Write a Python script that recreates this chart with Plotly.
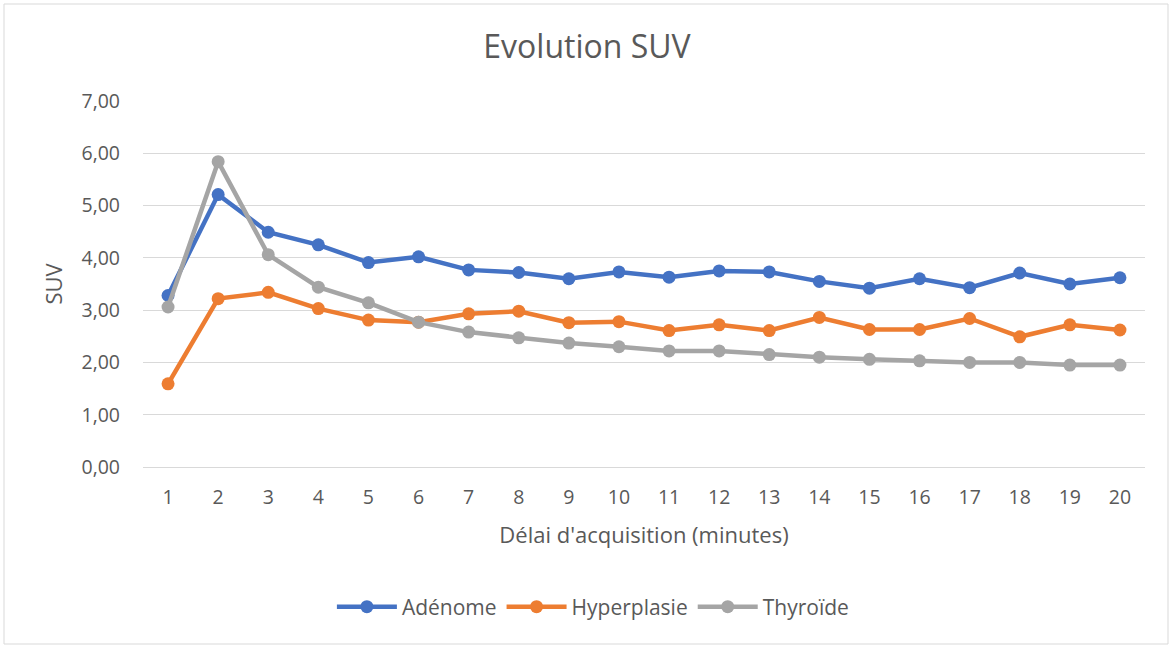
import plotly.graph_objects as go

minutes = [str(i) for i in range(1, 21)]
adenome = [3.28, 5.21, 4.49, 4.25, 3.91, 4.02, 3.77, 3.72, 3.60, 3.73,
           3.63, 3.75, 3.73, 3.55, 3.42, 3.60, 3.43, 3.71, 3.50, 3.62]
hyperplasie = [1.59, 3.22, 3.34, 3.03, 2.81, 2.77, 2.93, 2.98, 2.76, 2.78,
               2.61, 2.72, 2.61, 2.86, 2.63, 2.63, 2.84, 2.49, 2.72, 2.62]
thyroide = [3.06, 5.84, 4.06, 3.44, 3.14, 2.77, 2.58, 2.47, 2.37, 2.30,
            2.22, 2.22, 2.15, 2.10, 2.06, 2.03, 2.00, 2.00, 1.95, 1.95]
y_ticks = [0, 1, 2, 3, 4, 5, 6, 7]

series = [("Adénome", adenome, "#4472C4"),
          ("Hyperplasie", hyperplasie, "#ED7D31"),
          ("Thyroïde", thyroide, "#A5A5A5")]

fig = go.Figure()
for name, vals, col in series:
    fig.add_trace(go.Scatter(x=minutes, y=vals, name=name, mode="lines+markers",
                             line=dict(color=col, width=4.5),
                             marker=dict(color=col, size=13)))

font_family = "'Open Sans', 'Noto Sans', sans-serif"
fig.update_layout(
    width=1174, height=648,
    margin=dict(l=143, r=29, t=101, b=181),
    paper_bgcolor="white", plot_bgcolor="white",
    font=dict(family=font_family, color="#595959", size=19),
    separators=",.",
    title=dict(text="Evolution SUV", x=0.5, xanchor="center", y=1 - 47 / 648,
               yanchor="middle", font=dict(size=32, color="#595959")),
    xaxis=dict(type="category", range=[-0.5, 19.5], showgrid=False,
               showline=True, linecolor="#D9D9D9", linewidth=1, ticks="",
               ticklabelstandoff=13,
               tickfont=dict(size=19.5), title=dict(text="Délai d'acquisition (minutes)",
               font=dict(size=22), standoff=18)),
    yaxis=dict(range=[0, 7], tickvals=y_ticks, tickformat=".2f",
               showgrid=True, gridcolor="#D9D9D9", gridwidth=1, zeroline=False,
               ticks="", ticklabelstandoff=22, tickfont=dict(size=19.5),
               title=dict(text="SUV", font=dict(size=22), standoff=12)),
    legend=dict(orientation="h", x=0.449, xanchor="center", y=(467 - 607) / 366,
                yanchor="middle", font=dict(size=21), itemwidth=60,
                traceorder="normal"),
    shapes=[dict(type="rect", xref="paper", yref="paper",
                 x0=(4 - 143) / 1002, x1=(1168 - 143) / 1002,
                 y0=(467 - 644) / 366, y1=(467 - 4) / 366,
                 line=dict(color="#D9D9D9", width=1), layer="below")],
)

fig.write_html("out.html", config={"displayModeBar": False},
               post_script="document.body.style.margin='0';")
